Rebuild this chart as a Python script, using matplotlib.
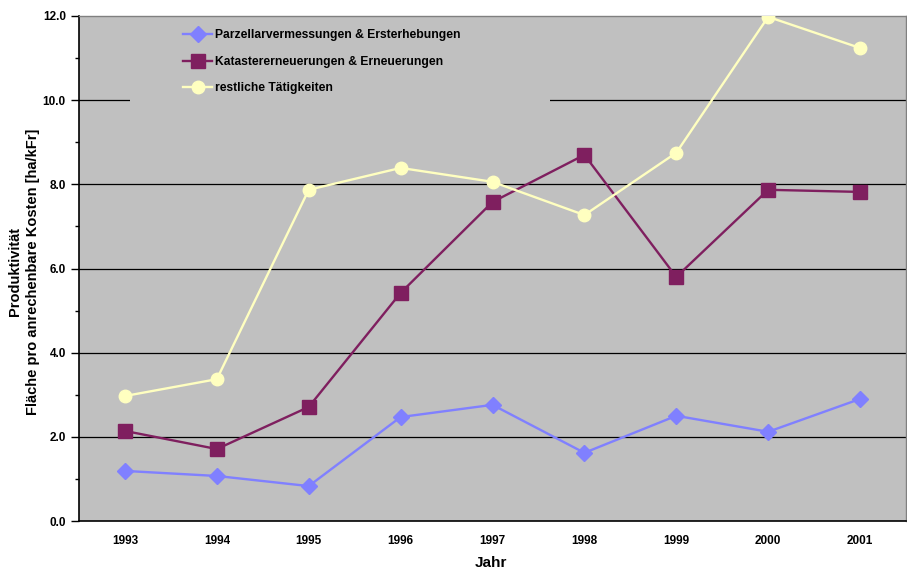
import numpy as np
import matplotlib
matplotlib.use("Agg")
import matplotlib.pyplot as plt
from matplotlib.patches import Rectangle

# ============================================
# DATA
# ============================================

years = ["1993", "1994", "1995", "1996", "1997", "1998", "1999", "2000", "2001"]

parzellar = [1.19, 1.07, 0.83, 2.47, 2.76, 1.62, 2.50, 2.12, 2.90]
kataster = [2.14, 1.71, 2.71, 5.42, 7.58, 8.70, 5.80, 7.87, 7.82]
restliche = [2.97, 3.37, 7.87, 8.39, 8.06, 7.27, 8.75, 11.98, 11.24]

labels = [
    "Parzellarvermessungen & Ersterhebungen",
    "Katastererneuerungen & Erneuerungen",
    "restliche Tätigkeiten",
]

yticks = [0, 2, 4, 6, 8, 10, 12]

# ============================================
# PLOT
# ============================================

plt.rcParams['font.family'] = ['Liberation Sans', 'DejaVu Sans']
plt.rcParams['font.weight'] = 'bold'

fig = plt.figure(figsize=(9.07, 5.72), dpi=100)
ax = fig.add_axes([79 / 907, 1 - 521 / 572, (906 - 79) / 907, (521 - 16) / 572])

x = np.arange(len(years))

ax.set_facecolor("#C0C0C0")

for yv in yticks[1:-1]:
    ax.axhline(yv, color="black", linewidth=0.9, zorder=1)

# legend background hides part of the 10.0 gridline, like the original
ax.add_patch(Rectangle((0.0617, 0.826), 0.508, 0.17, transform=ax.transAxes,
                       facecolor="#C0C0C0", edgecolor="none", zorder=1.5))

ax.plot(x, parzellar, color="#8080FF", marker="D", markersize=8,
        linewidth=1.7, label=labels[0], zorder=3)
ax.plot(x, kataster, color="#7F1F5F", marker="s", markersize=9.5,
        linewidth=1.7, label=labels[1], zorder=3)
ax.plot(x, restliche, color="#FFFFC0", marker="o", markersize=9,
        linewidth=1.7, label=labels[2], zorder=3)

ax.set_xlim(-0.5, len(years) - 0.5)
ax.set_ylim(0, 12)

ax.set_xticks(x)
ax.set_xticklabels(years, fontsize=8.5, fontweight="bold")
ax.tick_params(axis="x", length=0, pad=10)

ax.set_yticks(yticks)
ax.set_yticklabels(["%.1f" % v for v in yticks], fontsize=8.5, fontweight="bold")
ax.set_yticks(np.arange(1, 12, 2), minor=True)
ax.tick_params(axis="y", which="major", length=6, width=1, direction="out")
ax.tick_params(axis="y", which="minor", length=3, width=1, direction="out")

for side in ["left", "bottom"]:
    ax.spines[side].set_color("black")
    ax.spines[side].set_linewidth(1.2)
for side in ["top", "right"]:
    ax.spines[side].set_color("#808080")
    ax.spines[side].set_linewidth(1)

leg = ax.legend(
    loc="upper left",
    bbox_to_anchor=(183 / 907, 1 - 29 / 572),
    bbox_transform=fig.transFigure,
    frameon=False,
    handlelength=2.4,
    handletextpad=0.25,
    labelspacing=1.22,
    borderpad=0,
    borderaxespad=0,
    prop={"weight": "bold", "size": 8.7},
)
leg.set_zorder(4)

fig.text(491 / 907, 1 - 563 / 572, "Jahr", fontsize=11, fontweight="bold",
         ha="center", va="center")
fig.text(24 / 907, 1 - 272 / 572,
         "Produktivität\nFläche pro anrechenbare Kosten [ha/kFr]",
         fontsize=10.5, fontweight="bold", rotation=90,
         ha="center", va="center", linespacing=1.3)

plt.savefig("out.png", dpi=100)
